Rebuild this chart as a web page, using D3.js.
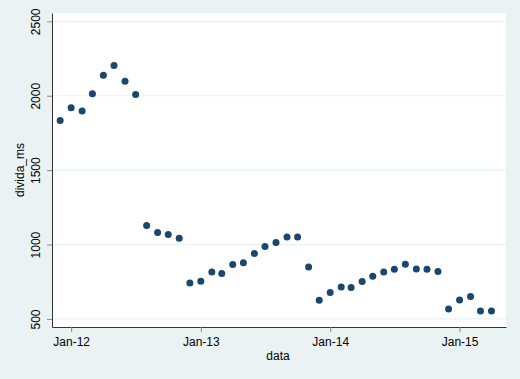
<!DOCTYPE html>
<html>
<head>
<meta charset="utf-8">
<script src="https://cdn.jsdelivr.net/npm/d3@7"></script>
<style>
body{margin:0;background:#eaf2f3}
text{font-family:"Liberation Sans",Arial,sans-serif;fill:#000}
</style>
</head>
<body>
<svg id="chart" width="520" height="379"></svg>
<script>
// monthly observations, Dec 2011 .. Apr 2015
var startMonth = [2011, 11]
var divida = [1834,
  1919,1897,2013,2137,2204,2098,2009,1128,1081,1068,1043,742,
  754,816,805,866,877,940,987,1014,1051,1051,850,626,
  677,715,711,751,787,816,834,868,836,834,819,567,
  628,651,554,554]
var yTicks = [500,1000,1500,2000,2500]
var xTickYears = [2012,2013,2014,2015]

var data = divida.map(function(v,i){
  return {date:new Date(startMonth[0], startMonth[1]+i, 1), value:v}
})

var svg = d3.select('#chart')
var pLeft = 52, pRight = 506, pTop = 13, pBottom = 327

var x = d3.scaleTime()
  .domain([new Date(2011,10,8), new Date(2015,4,12)])
  .range([pLeft,pRight])
var y = d3.scaleLinear().domain([446,2556]).range([pBottom,pTop])

svg.append('rect').attr('x',pLeft).attr('y',pTop)
  .attr('width',pRight-pLeft).attr('height',pBottom-pTop).attr('fill','#fff')

// grid
svg.selectAll('line.grid').data(yTicks).enter().append('line')
  .attr('class','grid')
  .attr('x1',pLeft).attr('x2',pRight)
  .attr('y1',function(d){return y(d)}).attr('y2',function(d){return y(d)})
  .attr('stroke','#eaf2f3').attr('stroke-width',1.2)

var yAxis = svg.append('g').attr('transform','translate('+pLeft+',0)')
  .call(d3.axisLeft(y).tickValues(yTicks).tickFormat(d3.format('d'))
    .tickSize(5).tickPadding(10).tickSizeOuter(0))
yAxis.select('.domain').attr('stroke','#333')
yAxis.selectAll('.tick line').attr('stroke','#888')
yAxis.selectAll('.tick text')
  .attr('font-size',12).attr('text-anchor','middle').attr('x',0).attr('dy',0)
  .attr('transform','translate(-15,0) rotate(-90)')
  .attr('dominant-baseline','middle')

var xAxis = svg.append('g').attr('transform','translate(0,'+pBottom+')')
  .call(d3.axisBottom(x)
    .tickValues(xTickYears.map(function(yr){return new Date(yr,0,1)}))
    .tickFormat(d3.timeFormat('%b-%y')).tickSize(5).tickPadding(5).tickSizeOuter(0))
xAxis.select('.domain').attr('stroke','#333')
xAxis.selectAll('.tick line').attr('stroke','#888')
xAxis.selectAll('.tick text').attr('font-size',12)

svg.append('text').attr('x',278).attr('y',360).attr('text-anchor','middle')
  .attr('font-size',12).text('data')
svg.append('text').attr('transform','translate(24,'+((pTop+pBottom)/2)+') rotate(-90)')
  .attr('text-anchor','middle').attr('font-size',12).text('divida_ms')

svg.selectAll('circle').data(data).enter().append('circle')
  .attr('cx',function(d){return x(d.date)})
  .attr('cy',function(d){return y(d.value)})
  .attr('r',3.5).attr('fill','#1a476f')
</script>
</body>
</html>
